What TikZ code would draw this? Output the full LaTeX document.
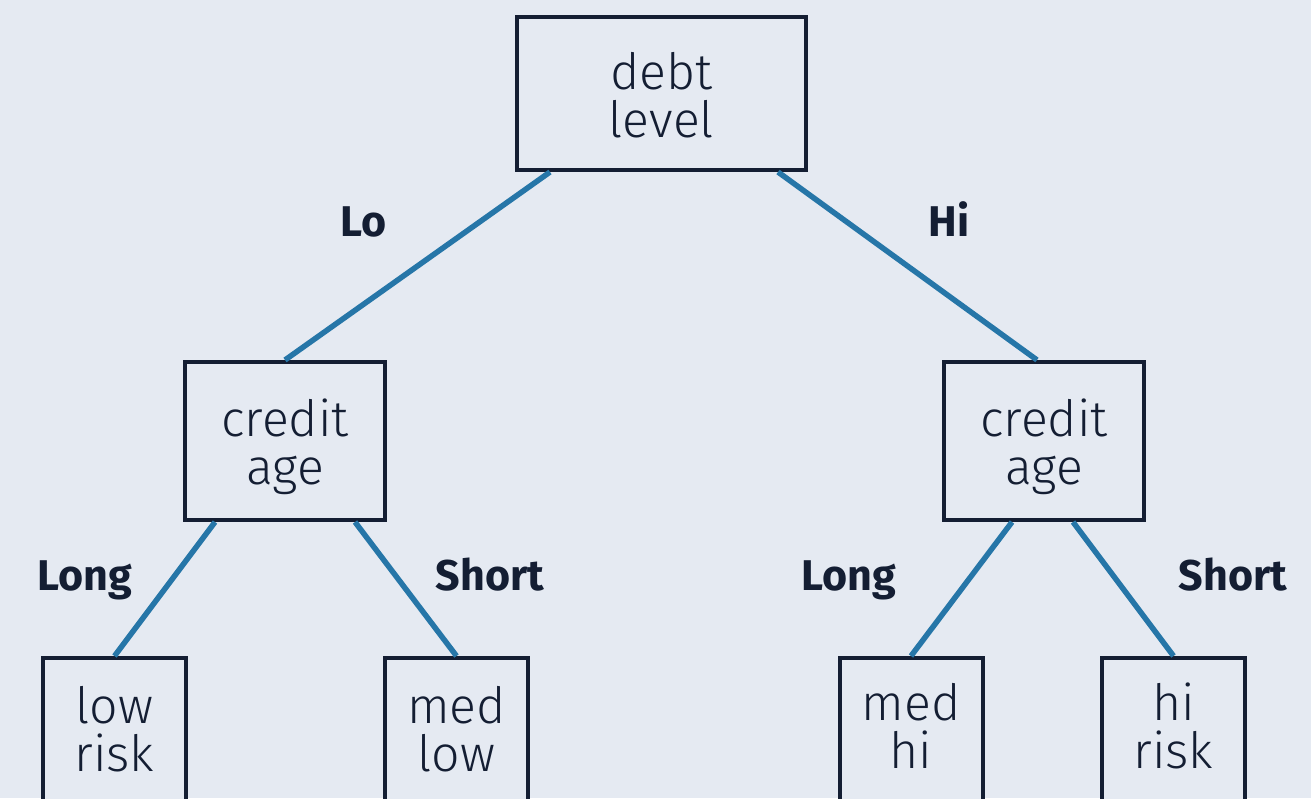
\documentclass[tikz,border=0pt]{standalone}
\usepackage{fontspec}
\setmainfont{Fira Sans}[UprightFont=* Light, BoldFont=* Bold]
\usetikzlibrary{calc}
\definecolor{bg}{HTML}{E5EAF2}
\definecolor{ink}{HTML}{141E33}
\definecolor{edge}{HTML}{2676A8}
\tikzset{
  x=1pt, y=-1pt,
  box/.style={draw=ink, line width=4pt, fill=bg, text=ink, align=center, inner sep=0pt,
    font=\fontsize{50}{48}\selectfont, text depth=10pt},
  leaf/.style={box, minimum width=143pt, minimum height=146pt},
  mid/.style={box, minimum width=200pt, minimum height=158pt, text height=96pt},
  conn/.style={draw=edge, line width=5.5pt},
  lbl/.style={text=ink, font=\fontsize{43}{45}\selectfont\bfseries, inner sep=0pt, anchor=base}
}
\begin{document}
\begin{tikzpicture}
\fill[bg] (0,0) rectangle (1311,798);
\useasboundingbox (0,0) rectangle (1311,798);
\clip (0,0) rectangle (1311,798);
\node[box, minimum width=289pt, minimum height=153pt, text height=97pt] (root) at (661.5,93.5) {debt\\level};
\node[mid] (cL) at (285,441) {credit\\age};
\node[mid] (cR) at (1044,441) {credit\\age};
\node[leaf, text height=90pt] (l1) at (114.5,731) {low\\risk};
\node[leaf, text height=90pt] (l2) at (456.5,731) {med\\low};
\node[leaf, text height=84pt] (l3) at (911,731) {med\\hi};
\node[leaf, text height=84pt] (l4) at (1173.5,731) {hi\\risk};
\draw[conn] ($(root.south)+(-111.5,0)$) -- (cL.north);
\draw[conn] ($(root.south)+(116.5,0)$) -- ($(cR.north)+(-7,0)$);
\draw[conn] ($(cL.south)+(-70,0)$) -- (l1.north);
\draw[conn] ($(cL.south)+(70,0)$) -- (l2.north);
\draw[conn] ($(cR.south)+(-32,0)$) -- (l3.north);
\draw[conn] ($(cR.south)+(29,0)$) -- (l4.north);
\node[lbl] (tLo) at (364,236) {Lo};
\node[lbl] (tHi) at (949,236) {Hi};
\node[lbl] (tL1) at (85,590) {Long};
\node[lbl] (tS1) at (490,590) {Short};
\node[lbl] (tL2) at (849,590) {Long};
\node[lbl] (tS2) at (1233,590) {Short};
\end{tikzpicture}
\end{document}
